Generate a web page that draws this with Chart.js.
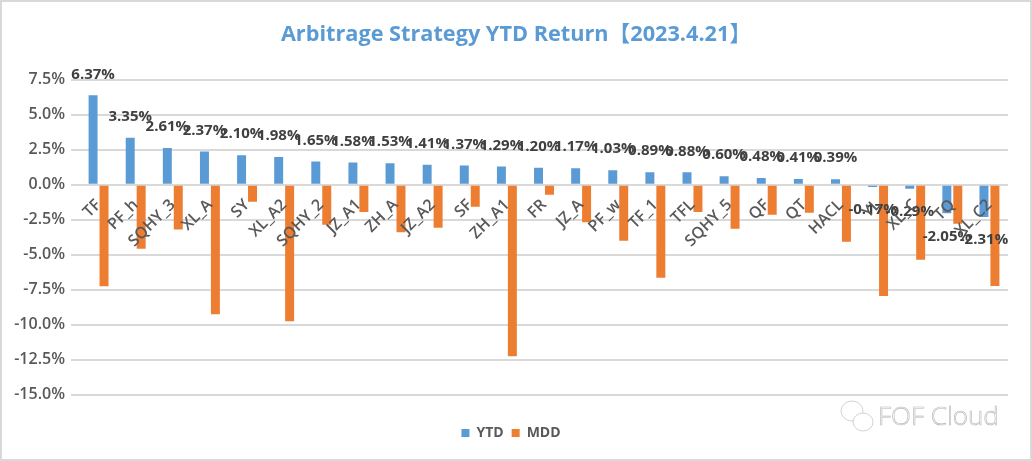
<!DOCTYPE html>
<html>
<head>
<meta charset="utf-8">
<script src="https://cdn.jsdelivr.net/npm/chart.js@4"></script>
<style>
html, body { margin: 0; padding: 0; background: #fff; }
canvas { display: block; }
</style>
</head>
<body>
<canvas id="chart" width="1032" height="461"></canvas>
<script>
const categories = ['TF', 'PF_h', 'SQHY_3', 'XL_A', 'SY', 'XL_A2', 'SQHY_2', 'JZ_A1', 'ZH_A', 'JZ_A2', 'SF', 'ZH_A1', 'FR', 'JZ_A', 'PF_w', 'TF_1', 'TFL', 'SQHY_5', 'QF', 'QT', 'HACL', 'YL', 'XL_C', 'TQ', 'XL_C2'];
const ytd = [6.37, 3.35, 2.61, 2.37, 2.10, 1.98, 1.65, 1.58, 1.53, 1.41, 1.37, 1.29, 1.20, 1.17, 1.03, 0.89, 0.88, 0.60, 0.48, 0.41, 0.39, -0.17, -0.29, -2.05, -2.31];
const mdd = [-7.25, -4.58, -3.2, -9.25, -1.22, -9.75, -2.87, -1.96, -3.39, -3.08, -1.58, -12.25, -0.73, -2.68, -4.01, -6.65, -1.96, -3.15, -2.15, -2.0, -4.08, -7.94, -5.37, -2.8, -7.23];

const fontName = '"Open Sans", "Noto Sans CJK SC", sans-serif';

// outer frame of the picture, title nudged to the reference centre
const frame = {
    id: 'frame',
    afterLayout(chart) {
        chart.titleBlock.left += 5;
        chart.titleBlock.right += 5;
    },
    beforeDraw(chart) {
        const ctx = chart.ctx;
        ctx.save();
        ctx.strokeStyle = '#d9d9d9';
        ctx.lineWidth = 2;
        ctx.strokeRect(1, 1, chart.width - 2, chart.height - 2);
        ctx.restore();
    }
};

// value labels on the YTD bars
const ytdLabels = {
    id: 'ytdLabels',
    afterDatasetsDraw(chart) {
        const ctx = chart.ctx;
        ctx.save();
        ctx.font = '700 15px ' + fontName;
        ctx.fillStyle = '#404040';
        ctx.textAlign = 'center';
        ctx.textBaseline = 'middle';
        chart.getDatasetMeta(0).data.forEach((bar, i) => {
            const above = ytd[i] >= 0;
            ctx.fillText(ytd[i].toFixed(2) + '%', bar.x, bar.y + (above ? -21 : 23));
        });
        ctx.restore();
    }
};

// faint account mark in the bottom right corner
const watermark = {
    id: 'watermark',
    afterDraw(chart) {
        const ctx = chart.ctx;
        ctx.save();
        ctx.strokeStyle = '#b5b5b5';
        ctx.lineWidth = 0.6;
        ctx.font = '300 26px ' + fontName;
        ctx.textAlign = 'left';
        ctx.textBaseline = 'middle';
        ctx.strokeText('FOF Cloud', 878, 418);
        ctx.beginPath();
        ctx.ellipse(852, 411, 11, 10, 0, 0, Math.PI * 2);
        ctx.stroke();
        ctx.fillStyle = '#fff';
        ctx.beginPath();
        ctx.ellipse(863, 422, 10, 9, 0, 0, Math.PI * 2);
        ctx.fill();
        ctx.stroke();
        ctx.restore();
    }
};

new Chart(document.getElementById('chart'), {
    type: 'bar',
    data: {
        labels: categories,
        datasets: [
            { label: 'YTD', data: ytd, backgroundColor: '#5B9BD5', categoryPercentage: 0.59, barPercentage: 0.82 },
            { label: 'MDD', data: mdd, backgroundColor: '#ED7D31', categoryPercentage: 0.59, barPercentage: 0.82 }
        ]
    },
    options: {
        responsive: false,
        animation: false,
        layout: { padding: { left: 14, right: 24, top: 16, bottom: 11 } },
        plugins: {
            title: {
                display: true,
                text: 'Arbitrage Strategy YTD Return【2023.4.21】',
                color: '#5B9BD5',
                font: { family: fontName, size: 21.7, weight: 'bold' },
                padding: { top: 6, bottom: 31.5 }
            },
            legend: {
                position: 'bottom',
                // empty legend title only keeps the gap above the legend row
                title: { display: true, text: ' ', font: { size: 1 }, padding: { top: 0, bottom: 22 } },
                labels: {
                    color: '#595959',
                    font: { family: fontName, size: 14, weight: 'bold' },
                    boxWidth: 8,
                    boxHeight: 8,
                    padding: 8
                }
            },
            tooltip: { enabled: false }
        },
        scales: {
            x: {
                position: { y: 0 },
                grid: { display: false },
                border: { display: false },
                ticks: {
                    autoSkip: false,
                    minRotation: 45,
                    maxRotation: 45,
                    z: 1,
                    color: '#595959',
                    font: { family: fontName, size: 16, weight: '600' }
                }
            },
            y: {
                min: -15,
                max: 7.5,
                afterFit(scale) { scale.width = 66; },
                grid: { color: '#d9d9d9', lineWidth: 2, tickLength: 9 },
                border: { display: false },
                ticks: {
                    stepSize: 2.5,
                    padding: 6,
                    color: '#595959',
                    font: { family: fontName, size: 16, weight: '600' },
                    callback: v => v.toFixed(1) + '%'
                }
            }
        }
    },
    plugins: [frame, ytdLabels, watermark]
});
</script>
</body>
</html>
